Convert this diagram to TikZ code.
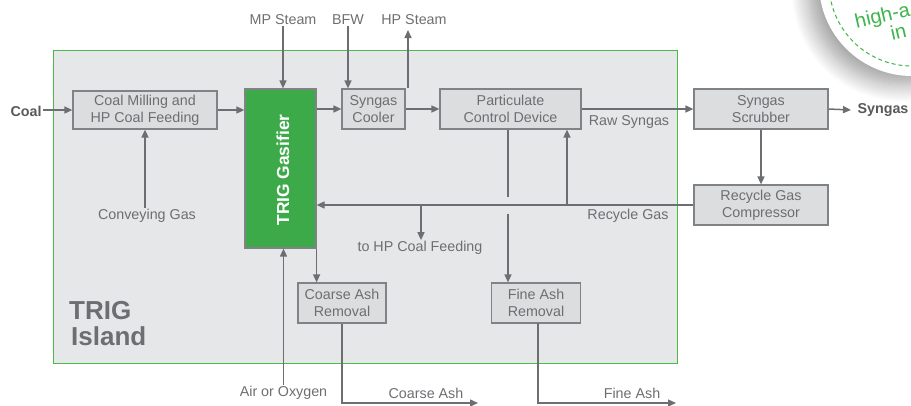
\documentclass[tikz,border=0pt]{standalone}
\usepackage{fontspec}
\setmainfont{Liberation Sans}
\usetikzlibrary{arrows.meta,shadows.blur}
\definecolor{txtgray}{HTML}{6D6E71}
\definecolor{linegray}{HTML}{6D6E71}
\definecolor{boxborder}{HTML}{808285}
\definecolor{boxfill}{HTML}{DCDDDE}
\definecolor{islandfill}{HTML}{E6E7E8}
\definecolor{islandborder}{HTML}{4DB848}
\definecolor{gasgreen}{HTML}{3DAA4A}
\definecolor{darkgray}{HTML}{58595B}
\definecolor{circgreen}{HTML}{3DB54A}
\tikzset{
  unit/.style={draw=boxborder, fill=boxfill, line width=1.2pt, text=txtgray,
    align=center, inner sep=0pt, font=\fontsize{14.3}{17}\selectfont},
  lbl/.style={text=txtgray, inner sep=1pt, font=\fontsize{14.3}{17}\selectfont},
  blbl/.style={text=darkgray, inner sep=1pt, font=\fontsize{14.3}{17}\selectfont\bfseries},
  bigl/.style={text=txtgray, inner sep=0pt, anchor=base west, font=\fontsize{26}{27}\selectfont\bfseries},
  flow/.style={draw=linegray, line width=1.5pt, -{Triangle[length=8pt,width=7pt]}},
  plain/.style={draw=linegray, line width=1.5pt},
}
\begin{document}
\begin{tikzpicture}[x=1pt,y=-1pt]
\useasboundingbox (0,0) rectangle (911,405);
% promo circle (top right, cropped)
\fill[white, blur shadow={shadow xshift=-10pt, shadow yshift=-8pt, shadow blur radius=18pt, shadow blur steps=18, shadow opacity=40}] (912,-17) circle (93);
\draw[circgreen, line width=1pt, dash pattern=on 4pt off 3pt] (912,-17) circle (83);
\node[text=circgreen, rotate=13, font=\fontsize{20}{20}\selectfont, align=left, anchor=base west, inner sep=0pt] (circtxt) at (861,48) {high-a\\\hspace*{32pt}in};
% island
\draw[islandborder, fill=islandfill, line width=1pt] (53,50) rectangle (677,363);
\node[bigl] (island1) at (69,319) {TRIG};
\node[bigl] (island2) at (71,345) {Island};
% units
\node[unit, minimum width=144pt, minimum height=38pt] (cm) at (145,110) {Coal Milling and\\HP Coal Feeding};
\node[draw=boxborder, fill=gasgreen, line width=1.2pt, minimum width=71pt, minimum height=159pt, inner sep=0pt] (gas) at (280.5,168.5) {};
\node[text=white, rotate=90, font=\fontsize{17.4}{19}\selectfont\bfseries, inner sep=0pt] (gastxt) at (283,170) {TRIG Gasifier};
\node[unit, minimum width=63pt, minimum height=40pt] (cool) at (373.5,109) {Syngas\\Cooler};
\node[unit, minimum width=141pt, minimum height=40pt] (pcd) at (510.5,109) {Particulate\\Control Device};
\node[unit, minimum width=134pt, minimum height=40pt] (scr) at (761,109) {Syngas\\Scrubber};
\node[unit, minimum width=134pt, minimum height=40pt] (rgc) at (761,205) {Recycle Gas\\Compressor};
\node[unit, minimum width=88pt, minimum height=40pt] (car) at (342,303) {Coarse Ash\\Removal};
\node[unit, minimum width=89pt, minimum height=40pt] (far) at (536,303) {Fine Ash\\Removal};
% labels
\node[blbl] (coal) at (26,111) {Coal};
\node[blbl] (syn) at (883,110) {Syngas};
\node[lbl] (mps) at (283,20) {MP Steam};
\node[lbl] (bfw) at (348,20) {BFW};
\node[lbl] (hps) at (414,20) {HP Steam};
\node[lbl] (raw) at (629,122) {Raw Syngas};
\node[lbl] (conv) at (147,216) {Conveying Gas};
\node[lbl] (recy) at (628,216) {Recycle Gas};
\node[lbl] (tohp) at (420,248) {to HP Coal Feeding};
\node[lbl] (air) at (283.5,393) {Air or Oxygen};
\node[lbl] (cash) at (426,393) {Coarse Ash};
\node[lbl] (fash) at (632,393) {Fine Ash};
% coordinates
\coordinate (hp) at (408,30);
\coordinate (b1) at (421,205);
\coordinate (b2) at (567,205);
\coordinate (pd1) at (508,197);
\coordinate (pd2) at (508,214);
\coordinate (caend) at (478,403);
\coordinate (faend) at (676,403);
\coordinate (fa0) at (538,323);
\coordinate (synend) at (851,110);
\coordinate (coalend) at (72,110);
% connectors
\draw[flow] (coal.east |- coalend) -- (cm.west);
\draw[flow] (cm.east) -- (gas.west |- cm.east);
\draw[flow] (gas.east |- cool.west) -- (cool.west);
\draw[flow] (cool.east) -- (pcd.west);
\draw[flow] (pcd.east) -- (scr.west);
\draw[flow] (scr.east) -- (synend);
\draw[flow] (mps.south) -- (mps.south |- gas.north);
\draw[flow] (bfw.south) -- (bfw.south |- cool.north);
\draw[flow] (cool.north -| hp) -- (hp);
\draw[flow] (cm.south |- conv.north) -- (cm.south);
\draw[flow] (scr.south) -- (rgc.north);
\draw[flow] (rgc.west) -- (gas.east |- rgc.west);
\draw[flow] (b1) -- (b1 |- tohp.north);
\draw[flow] (b2) -- (b2 |- pcd.south);
\draw[plain] (pcd.south -| pd1) -- (pd1);
\draw[flow] (pd2) -- (far.north -| pd2);
\draw[flow] (air.north) -- (air.north |- gas.south);
\draw[flow] (gas.south east) -- (gas.south east |- car.north);
\draw[flow] (car.south) |- (caend);
\draw[flow] (fa0) |- (faend);
\end{tikzpicture}
\end{document}
